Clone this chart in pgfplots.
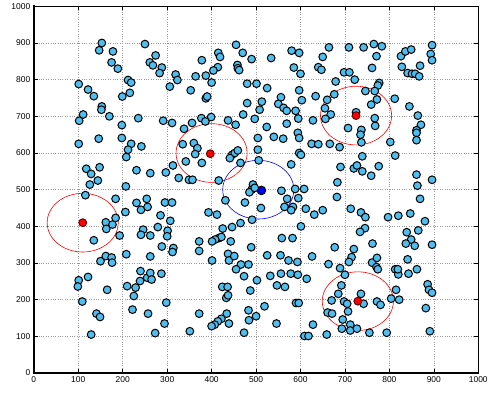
\documentclass[border=0pt]{standalone}
\usepackage{fontspec}
\setmainfont{Liberation Sans}
\usepackage{pgfplots}
\pgfplotsset{compat=1.18}
\definecolor{pt}{RGB}{77,190,238}
\begin{document}
\begin{tikzpicture}
\begin{axis}[
  name=ax,
  scale only axis, width=446.7pt, height=368.6pt,
  xmin=0, xmax=1000, ymin=0, ymax=1000,
  xtick={0,100,...,1000}, ytick={0,100,...,1000},
  tick label style={font=\fontsize{8.5}{10}\selectfont},
  /pgf/number format/assume math mode=true,
  /pgf/number format/1000 sep={},
  grid=major, grid style={dotted, gray!80, line width=0.5pt},
  axis line style={line width=0.8pt},
  tick style={black, line width=0.5pt}, major tick length=4pt,
  tick align=inside,
  clip=false,
]
\draw[red, line width=0.6pt] (axis cs:110,410) ellipse [x radius=80, y radius=80];
\draw[red, line width=0.6pt] (axis cs:400,600) ellipse [x radius=80, y radius=80];
\draw[red, line width=0.6pt] (axis cs:725,702) ellipse [x radius=80, y radius=80];
\draw[red, line width=0.6pt] (axis cs:729,196) ellipse [x radius=80, y radius=80];
\draw[blue, line width=0.6pt] (axis cs:505,500) ellipse [x radius=80, y radius=80];
\addplot[only marks, mark=*, mark size=4.3pt, mark options={fill=blue, draw=black, line width=1pt}] coordinates {(512,498)};
\addplot[only marks, mark=*, mark size=3.9pt, mark options={fill=pt, draw=black, line width=1pt}] coordinates {
(153,900) (147,880) (178,877) (175,847) (189,830) (250,897) (274,866) (261,847) (268,839) (288,833)
(283,818) (319,814) (323,799) (306,781) (101,788) (122,773) (135,755) (212,799) (219,792) (216,764)
(199,754) (153,727) (152,718) (170,700) (111,705) (102,688) (198,676) (235,695) (291,688) (311,682)
(338,666) (455,895) (470,873) (490,856) (415,873) (419,862) (378,853) (458,840) (459,831) (462,826)
(414,834) (404,825) (387,811) (364,809) (400,792) (534,859) (580,879) (597,873) (585,833) (600,816)
(664,888) (650,862) (640,834) (647,827) (679,795) (353,771) (387,749) (390,754) (480,789) (501,789)
(525,777) (480,736) (513,740) (508,718) (556,752) (550,734) (562,723) (569,715) (589,715) (597,771)
(603,744) (634,755) (660,745) (655,722) (668,705) (656,693) (628,689) (595,694) (569,680) (524,671)
(497,693) (471,705) (437,689) (454,677) (399,698) (377,695) (386,686) (356,682) (709,888) (742,888)
(765,897) (783,891) (771,864) (761,832) (698,820) (710,820) (722,800) (826,864) (836,877) (849,882)
(896,894) (893,870) (896,853) (828,835) (841,818) (851,816) (858,816) (869,838) (867,809) (777,791)
(774,784) (746,769) (767,769) (772,746) (759,732) (812,748) (845,727) (864,702) (871,677) (676,760)
(725,711) (707,668) (737,663) (767,695) (768,674) (861,662)
(101,625) (146,639) (198,641) (219,625) (212,609) (208,589) (242,618) (118,557) (148,561) (129,543)
(144,525) (126,514) (116,485) (231,553) (262,545) (297,547) (313,566) (326,532) (335,624) (207,509)
(184,475) (206,439) (231,464) (254,475) (241,445) (256,453) (295,465) (311,465) (285,430) (307,415)
(162,411) (177,405) (163,393) (184,423) (193,375) (135,362) (246,391) (241,377) (262,375) (279,398)
(301,388) (300,373) (504,641) (504,609) (506,580) (540,644) (561,639) (594,655) (597,641) (625,625)
(640,624) (597,600) (601,595) (579,569) (666,625) (683,520) (682,480) (360,627) (368,613) (363,597)
(342,577) (378,573) (446,595) (452,600) (459,607) (441,586) (465,573) (349,527) (357,527) (416,525)
(431,471) (475,465) (493,514) (490,500) (485,493) (497,505) (511,450) (491,418) (557,497) (570,475)
(588,502) (608,502) (595,477) (564,453) (583,453) (579,444) (612,448) (631,432) (650,444) (601,400)
(393,438) (412,432) (425,394) (446,398) (465,409) (416,368) (422,371) (408,364) (401,359) (372,359)
(443,359) (558,368) (582,368) (735,650) (737,629) (688,616) (802,630) (813,593) (861,655) (861,635)
(739,591) (690,562) (720,558) (727,566) (739,550) (759,538) (776,564) (861,541) (896,527) (863,511)
(869,475) (713,448) (736,438) (746,425) (797,425) (820,429) (847,435) (880,414) (865,389) (745,395)
(734,385) (839,384) (849,364) (837,353) (857,347) (896,350) (762,353)
(288,345) (314,341) (312,330) (208,324) (262,318) (150,305) (162,319) (175,315) (176,301) (101,253)
(99,236) (122,262) (165,227) (109,195) (210,237) (229,233) (225,210) (240,278) (239,251) (255,260)
(262,273) (265,255) (287,271) (298,192) (222,173) (257,162) (141,162) (149,153) (294,135) (273,109)
(129,105) (351,114) (489,343) (372,333) (401,307) (437,325) (439,307) (451,319) (466,296) (483,296)
(455,283) (473,264) (502,253) (487,225) (525,321) (555,321) (573,307) (593,303) (626,318) (663,297)
(532,265) (556,271) (578,271) (594,268) (614,257) (547,239) (565,235) (424,235) (436,235) (433,205)
(437,212) (590,191) (596,191) (519,182) (670,198) (483,171) (500,155) (484,144) (372,162) (434,162)
(422,148) (414,141) (407,132) (400,128) (439,135) (473,110) (546,135) (628,132) (609,101) (618,101)
(659,105) (661,165) (671,162) (677,343) (720,338) (715,316) (709,303) (761,301) (772,314) (771,289)
(774,283) (841,310) (813,283) (820,269) (819,283) (843,271) (862,283) (689,286) (700,268) (692,239)
(685,216) (698,195) (705,189) (707,168) (695,146) (693,121) (712,132) (712,116) (727,121) (736,216)
(742,189) (772,195) (780,186) (804,203) (815,227) (822,200) (794,110) (886,242) (889,227) (896,219)
(882,177) (891,114) (755,110)
};
\addplot[only marks, mark=*, mark size=3.9pt, mark options={fill=red, draw=black!60!red, line width=1pt}] coordinates {(110,410) (397,598) (725,702) (729,196)};
\draw[line width=1.8pt, line cap=rect] (rel axis cs:0,1) -- (rel axis cs:0,0) -- (rel axis cs:1,0);
\end{axis}
\path (ax.south west) ++(-34pt,-20.7pt) coordinate (bl);
\path (ax.north east) ++(10.3pt,5.7pt) coordinate (tr);
\path (bl) rectangle (tr);
\end{tikzpicture}
\end{document}
